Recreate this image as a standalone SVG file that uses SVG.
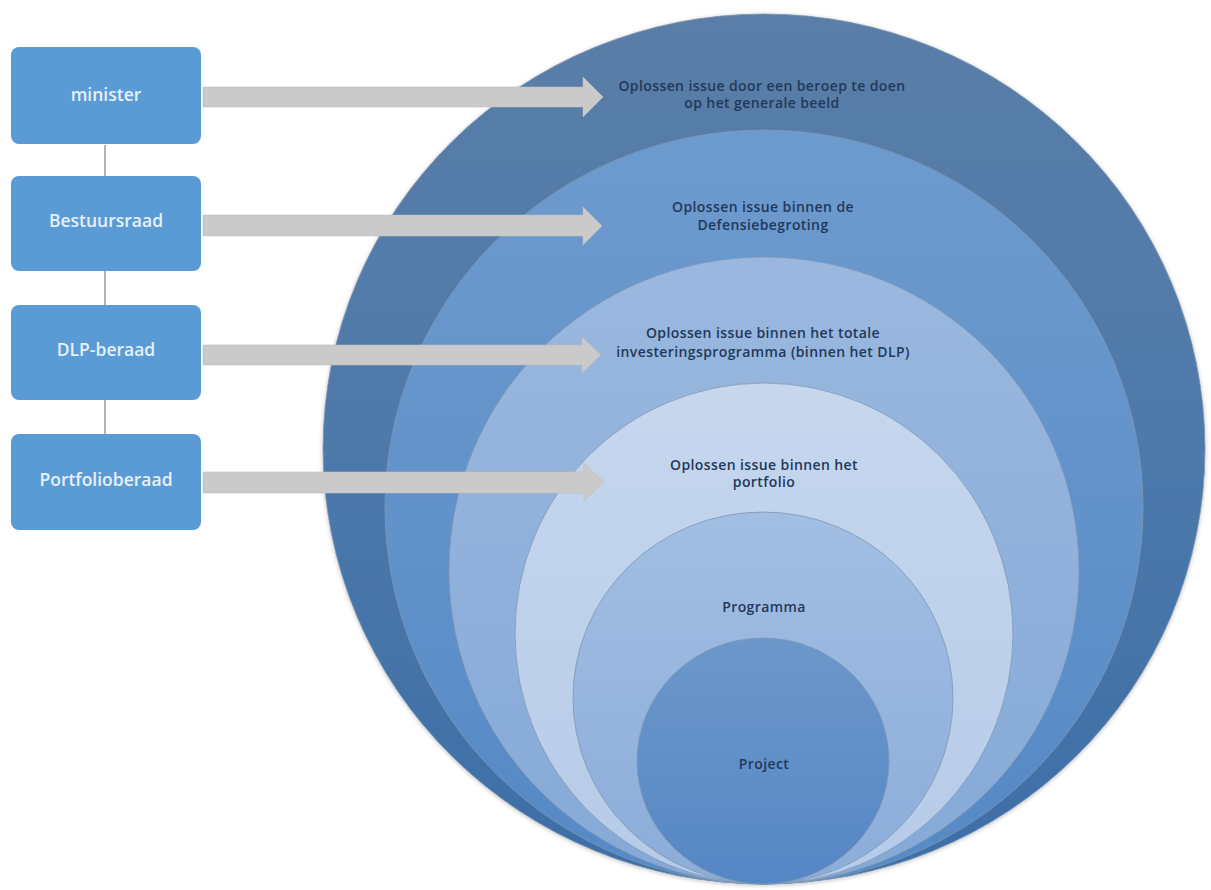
<svg xmlns="http://www.w3.org/2000/svg" width="1211" height="890" viewBox="0 0 1211 890">
  <defs>
    <linearGradient id="g1" x1="0" y1="0" x2="0" y2="1">
      <stop offset="0" stop-color="#5a7ea7"/>
      <stop offset="0.5" stop-color="#4d79ab"/>
      <stop offset="1" stop-color="#3c6ea6"/>
    </linearGradient>
    <linearGradient id="g2" x1="0" y1="0" x2="0" y2="1">
      <stop offset="0" stop-color="#6e9bce"/>
      <stop offset="1" stop-color="#5589c5"/>
    </linearGradient>
    <linearGradient id="g3" x1="0" y1="0" x2="0" y2="1">
      <stop offset="0" stop-color="#9ab8df"/>
      <stop offset="1" stop-color="#85a9d7"/>
    </linearGradient>
    <linearGradient id="g4" x1="0" y1="0" x2="0" y2="1">
      <stop offset="0" stop-color="#c6d7ee"/>
      <stop offset="1" stop-color="#b6cbe8"/>
    </linearGradient>
    <linearGradient id="g5" x1="0" y1="0" x2="0" y2="1">
      <stop offset="0" stop-color="#a2bee3"/>
      <stop offset="1" stop-color="#8badd9"/>
    </linearGradient>
    <linearGradient id="g6" x1="0" y1="0" x2="0" y2="1">
      <stop offset="0" stop-color="#6d97ca"/>
      <stop offset="1" stop-color="#5587c5"/>
    </linearGradient>
    <filter id="sh" x="-5%" y="-5%" width="110%" height="110%">
      <feGaussianBlur in="SourceAlpha" stdDeviation="2"/>
      <feOffset dx="0" dy="1" result="b"/>
      <feFlood flood-color="#000" flood-opacity="0.25"/>
      <feComposite in2="b" operator="in"/>
      <feMerge><feMergeNode/><feMergeNode in="SourceGraphic"/></feMerge>
    </filter>
  </defs>
  <style>
    .box { fill: #5b9bd5; }
    .boxtxt { font-family: "Open Sans", "Liberation Sans", sans-serif; font-size: 17.5px; font-weight: 600; fill: #e6f0fa; text-anchor: middle; }
    .ring { stroke: #7f97b3; stroke-width: 0.8; }
    .lbl { font-family: "Open Sans", "Liberation Sans", sans-serif; font-size: 14px; font-weight: 600; letter-spacing: 0.4px; fill: #22385a; text-anchor: middle; }
    .arrow { fill: #cacaca; stroke: #bdbdbd; stroke-width: 0.6; }
    .vline { stroke: #9a9a9a; stroke-width: 1.5; }
  </style>

  <rect width="1211" height="890" fill="#ffffff"/>

  <g id="circles">
    <g id="ring-generale-beeld">
      <ellipse class="ring" cx="764" cy="449" rx="441" ry="435" fill="url(#g1)" filter="url(#sh)"/>
    </g>
    <g id="ring-defensiebegroting">
      <ellipse class="ring" cx="764" cy="507" rx="379" ry="377" fill="url(#g2)"/>
    </g>
    <g id="ring-investeringsprogramma">
      <ellipse class="ring" cx="764" cy="570.5" rx="315" ry="313.5" fill="url(#g3)"/>
    </g>
    <g id="ring-portfolio">
      <ellipse class="ring" cx="764" cy="633.5" rx="249" ry="250.5" fill="url(#g4)"/>
    </g>
    <g id="ring-programma">
      <ellipse class="ring" cx="763" cy="698" rx="190" ry="186" fill="url(#g5)"/>
      <text class="lbl" x="764" y="612">Programma</text>
    </g>
    <g id="ring-project">
      <ellipse class="ring" cx="763" cy="761" rx="126" ry="123" fill="url(#g6)"/>
      <text class="lbl" x="764" y="769">Project</text>
    </g>
  </g>

  <g id="connectors">
    <line class="vline" x1="105" y1="145" x2="105" y2="176"/>
    <line class="vline" x1="105" y1="271" x2="105" y2="305"/>
    <line class="vline" x1="105" y1="400" x2="105" y2="434"/>
    <polygon class="arrow" points="203,87 583,87 583,77 603,97 583,117 583,107 203,107"/>
    <polygon class="arrow" points="203,215 583,215 583,207 602,226 583,245 583,236 203,236"/>
    <polygon class="arrow" points="203,345 582,345 582,337 601,355 582,373 582,365 203,365"/>
    <polygon class="arrow" points="203,472 584,472 584,463 604,482 584,501 584,493 203,493"/>
  </g>

  <g id="labels">
    <text class="lbl" x="762" y="91">Oplossen issue door een beroep te doen</text>
    <text class="lbl" x="762" y="108">op het generale beeld</text>
    <text class="lbl" x="763" y="212">Oplossen issue binnen de</text>
    <text class="lbl" x="763" y="230">Defensiebegroting</text>
    <text class="lbl" x="763" y="338">Oplossen issue binnen het totale</text>
    <text class="lbl" x="763" y="357">investeringsprogramma (binnen het DLP)</text>
    <text class="lbl" x="764" y="470">Oplossen issue binnen het</text>
    <text class="lbl" x="764" y="487">portfolio</text>
  </g>

  <g id="node-minister">
    <rect class="box" x="11" y="47" width="190" height="97" rx="8"/>
    <text class="boxtxt" x="106" y="101">minister</text>
  </g>
  <g id="node-bestuursraad">
    <rect class="box" x="11" y="176" width="190" height="95" rx="8"/>
    <text class="boxtxt" x="106" y="227">Bestuursraad</text>
  </g>
  <g id="node-dlp-beraad">
    <rect class="box" x="11" y="305" width="190" height="95" rx="8"/>
    <text class="boxtxt" x="106" y="356">DLP-beraad</text>
  </g>
  <g id="node-portfolioberaad">
    <rect class="box" x="11" y="434" width="190" height="96" rx="8"/>
    <text class="boxtxt" x="106" y="486">Portfolioberaad</text>
  </g>
</svg>
